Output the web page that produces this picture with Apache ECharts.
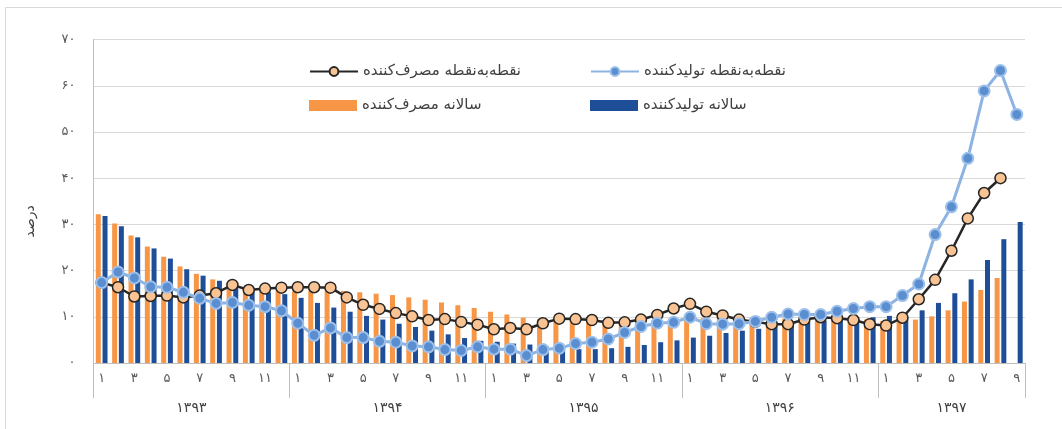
<!DOCTYPE html>
<html><head><meta charset="utf-8">
<script src="https://cdn.jsdelivr.net/npm/echarts@6/dist/echarts.min.js"></script>
<style>html,body{margin:0;padding:0;background:#fff}#c{width:1062px;height:429px}</style>
</head><body><div id="c"></div>
<script>
const years = ['۱۳۹۳','۱۳۹۴','۱۳۹۵','۱۳۹۶','۱۳۹۷'];
const monthsInYear = [12,12,12,12,9];
const monthNames = ['۱','۲','۳','۴','۵','۶','۷','۸','۹','۱۰','۱۱','۱۲'];
const yTickLabels = ['۰','۱۰','۲۰','۳۰','۴۰','۵۰','۶۰','۷۰'];
const seriesNames = ['سالانه مصرف\u200cکننده','سالانه تولیدکننده','نقطه\u200cبه\u200cنقطه مصرف\u200cکننده','نقطه\u200cبه\u200cنقطه تولیدکننده'];
const yAxisName = 'درصد';

const consumerAnnual = [
  32.2,30.2,27.6,25.2,23.0,20.9,19.3,18.1,17.0,16.4,16.0,15.7,
  15.5,15.6,15.6,15.6,15.3,15.0,14.7,14.2,13.7,13.1,12.5,11.9,
  11.1,10.5,9.8,9.5,9.3,9.1,9.0,8.9,8.9,9.0,9.2,9.3,
  9.4,9.7,10.0,9.9,9.8,9.7,9.6,9.5,9.5,9.5,9.4,9.4,
  9.1,9.1,9.4,10.1,11.4,13.3,15.8,18.4,null];
const producerAnnual = [
  31.8,29.6,27.2,24.8,22.6,20.3,18.9,17.8,16.6,15.8,15.3,14.9,
  14.1,13.0,12.0,11.1,10.2,9.4,8.5,7.8,7.0,6.2,5.4,4.8,
  4.6,4.2,4.0,3.6,3.2,3.0,3.0,3.2,3.5,3.9,4.5,4.9,
  5.5,5.9,6.5,7.0,7.4,8.1,8.6,8.9,9.2,9.4,9.6,9.9,
  10.2,10.1,11.4,13.0,15.1,18.1,22.3,26.8,30.5];
const consumerP2P = [
  17.4,16.4,14.4,14.5,14.6,14.2,14.6,15.1,16.9,15.8,16.1,16.3,
  16.4,16.4,16.3,14.2,12.6,11.7,10.8,10.1,9.3,9.5,8.9,8.3,
  7.3,7.6,7.3,8.6,9.6,9.5,9.3,8.7,8.8,9.4,10.4,11.8,
  12.8,11.1,10.3,9.4,8.9,8.4,8.4,9.4,9.9,9.7,9.3,8.4,
  8.1,9.8,13.8,18.0,24.3,31.3,36.8,40.0,null];
const producerP2P = [
  17.4,19.7,18.4,16.5,16.4,15.3,14.0,12.9,13.1,12.5,12.2,11.3,
  8.6,6.0,7.6,5.5,5.5,4.7,4.5,3.7,3.5,2.9,2.7,3.5,
  3.0,3.0,1.6,2.9,3.2,4.2,4.5,5.2,6.6,7.9,8.6,8.8,
  9.9,8.5,8.4,8.5,9.0,9.9,10.6,10.5,10.5,11.2,11.8,12.2,
  12.2,14.6,17.1,27.8,33.8,44.3,58.9,63.3,53.8];

// build categories
const categories = [], monthOfIdx = [], yearStarts = [], yearLabelAt = {};
years.forEach((y, yi) => {
  const start = categories.length, n = monthsInYear[yi];
  yearStarts.push(start);
  for (let m = 0; m < n; m++) { categories.push(y + '-' + (m + 1)); monthOfIdx.push(m); }
  if (n % 2 === 0) yearLabelAt[start + n / 2 - 1] = {text: y, shift: true};
  else yearLabelAt[start + (n - 1) / 2] = {text: y, shift: false};
});

const FONT = 'DejaVu Sans';
const chart = echarts.init(document.getElementById('c'), null, {renderer: 'canvas'});
const legendBase = {orient: 'horizontal', itemWidth: 48, itemHeight: 11, itemGap: 6,
  textStyle: {fontFamily: FONT, fontSize: 15, color: '#404040'}};
chart.setOption({
  animation: false,
  textStyle: {fontFamily: FONT},
  graphic: [{type: 'rect', shape: {x: 5.5, y: 7.5, width: 1100, height: 500},
    style: {fill: 'none', stroke: '#D9D9D9', lineWidth: 1}, silent: true, z: -10}],
  grid: {left: 93.5, right: 37, top: 39.6, bottom: 66, containLabel: false},
  legend: [
    Object.assign({}, legendBase, {data: [seriesNames[2]], left: 304, top: 59}),
    Object.assign({}, legendBase, {data: [seriesNames[3]], left: 585, top: 59}),
    Object.assign({}, legendBase, {data: [{name: seriesNames[0], icon: 'rect'}], left: 304, top: 93}),
    Object.assign({}, legendBase, {data: [{name: seriesNames[1], icon: 'rect'}], left: 585, top: 93})
  ],
  xAxis: [
    {type: 'category', data: categories, position: 'bottom',
     axisLine: {show: true, lineStyle: {color: '#BFBFBF', width: 1}},
     axisTick: {show: false},
     axisLabel: {interval: (i) => monthOfIdx[i] % 2 === 0, formatter: (v, i) => monthNames[monthOfIdx[i]],
       color: '#595959', fontSize: 13, margin: 9, fontFamily: FONT}},
    {type: 'category', data: categories, position: 'bottom',
     axisLine: {show: false},
     axisTick: {show: true, interval: (i) => yearStarts.indexOf(i) >= 0, length: 35,
       lineStyle: {color: '#BFBFBF', width: 1}},
     axisLabel: {interval: (i) => yearLabelAt[i] !== undefined,
       formatter: (v, i) => { const o = yearLabelAt[i]; return o ? (o.shift ? '{s|' + o.text + '}' : '{c|' + o.text + '}') : ''; },
       margin: 38, color: '#404040', fontSize: 14,
       rich: {s: {padding: [0, 0, 0, 16], fontSize: 14, color: '#404040', fontFamily: FONT},
              c: {fontSize: 14, color: '#404040', fontFamily: FONT}}}}
  ],
  yAxis: {type: 'value', min: 0, max: 70, interval: 10,
    name: yAxisName, nameLocation: 'middle', nameGap: 56, nameRotate: 90,
    nameTextStyle: {fontFamily: FONT, fontSize: 14, color: '#404040', padding: [0, 40, 0, 0]},
    axisLine: {show: true, lineStyle: {color: '#BFBFBF'}},
    axisTick: {show: false},
    axisLabel: {formatter: (v) => yTickLabels[Math.round(v / 10)], color: '#595959', fontSize: 13, margin: 18, fontFamily: FONT},
    splitLine: {lineStyle: {color: '#D9D9D9', width: 1}}},
  series: [
    {name: seriesNames[0], type: 'bar', data: consumerAnnual, barWidth: 5, barGap: '34%',
     itemStyle: {color: '#F79646'}, z: 1},
    {name: seriesNames[1], type: 'bar', data: producerAnnual, barWidth: 5, barGap: '34%',
     itemStyle: {color: '#1F4E99'}, z: 1},
    {name: seriesNames[2], type: 'line', data: consumerP2P, symbol: 'circle', symbolSize: 11,
     showSymbol: true, showAllSymbol: true,
     lineStyle: {color: '#262626', width: 2.5}, itemStyle: {color: '#F9C393', borderColor: '#262626', borderWidth: 1.5}, z: 3},
    {name: seriesNames[3], type: 'line', data: producerP2P, symbol: 'circle', symbolSize: 11,
     showSymbol: true, showAllSymbol: true,
     lineStyle: {color: '#8DB3E2', width: 3}, itemStyle: {color: '#5A8ED0', borderColor: '#9DC0EA', borderWidth: 2}, z: 4}
  ]
});
</script></body></html>
